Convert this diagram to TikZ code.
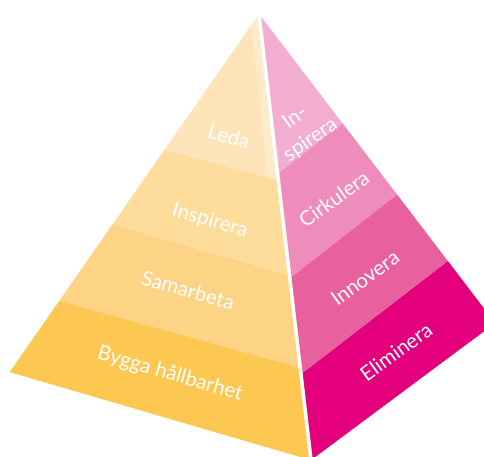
\documentclass[tikz,border=0pt]{standalone}
\usepackage{fontspec}
\setmainfont{Lato}
\definecolor{yA}{HTML}{FEE5B9}
\definecolor{yS}{HTML}{FEEBCB}
\definecolor{yB}{HTML}{FDDC9C}
\definecolor{yC}{HTML}{FDD485}
\definecolor{yD}{HTML}{FCC852}
\definecolor{pA}{HTML}{F2AED0}
\definecolor{pB}{HTML}{EE8DBC}
\definecolor{pC}{HTML}{E9609F}
\definecolor{pD}{HTML}{E4007D}
\tikzset{
  lbl/.style={text=white, font=\fontsize{20.5}{22}\selectfont, inner sep=0pt},
  lleft/.style={lbl, rotate=-16},
  lright/.style={lbl, rotate=36}
}
\begin{document}
\begin{tikzpicture}[x=1pt,y=-1pt]
\useasboundingbox (0,0) rectangle (484,457);
\clip (0,0) rectangle (484,457);
\coordinate (apex) at (259,14);
\coordinate (lc) at (10,372);
\coordinate (bc) at (311,460);
\coordinate (rc) at (495,323);
% left face
\begin{scope}
  \clip (apex) -- (lc) -- (bc) -- cycle;
  \fill[yA] (0,0) rectangle (330,470);
  \fill[yS] (250,14) -- (268.5,180) -- (300,180) -- (300,14) -- cycle;
  \fill[yB] (0,105.4) -- (330,194.6) -- (330,470) -- (0,470) -- cycle;
  \fill[yC] (0,192.6) -- (330,287.3) -- (330,470) -- (0,470) -- cycle;
  \fill[yD] (0,284.8) -- (330,376.2) -- (330,470) -- (0,470) -- cycle;
\end{scope}
% right face
\begin{scope}
  \clip (apex) -- (rc) -- (bc) -- cycle;
  \fill[pA] (250,0) rectangle (500,470);
  \fill[pB] (250,195.8) -- (500,0.1) -- (500,470) -- (250,470) -- cycle;
  \fill[pC] (250,309.8) -- (500,114.6) -- (500,470) -- (250,470) -- cycle;
  \fill[pD] (250,413.9) -- (500,221.2) -- (500,470) -- (250,470) -- cycle;
\end{scope}
% white divide
\draw[white, line width=3.5pt] (apex) -- (bc);
% labels left
\node[lleft] (leda) at (229,136) {Leda};
\node[lleft] (insp) at (210,221) {Inspirera};
\node[lleft] (sam) at (188,290) {Samarbeta};
\node[lleft] (bygga) at (170,374) {Bygga hållbarhet};
% labels right
\node[lright, rotate=-1, align=center, font=\fontsize{20.5}{27}\selectfont] (insp2) at (303,129) {In-\\spirera};
\node[lright] (cirk) at (334,199) {Cirkulera};
\node[lright] (innov) at (365,278) {Innovera};
\node[lright] (elim) at (396,352) {Eliminera};
\end{tikzpicture}
\end{document}
